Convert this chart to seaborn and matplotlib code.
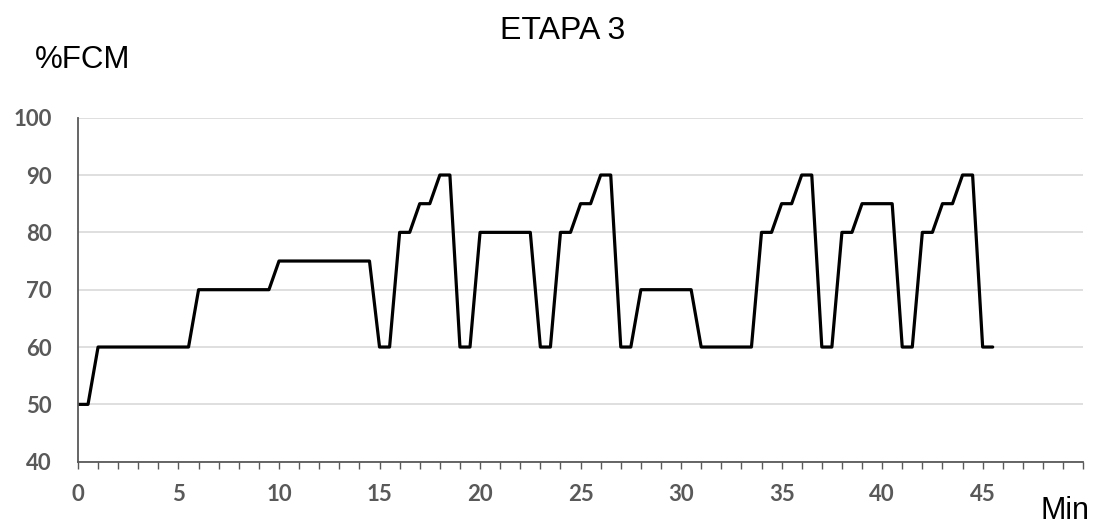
import pandas as pd
import matplotlib
matplotlib.use("Agg")
import matplotlib.pyplot as plt
import matplotlib.ticker as ticker
import seaborn as sns
import numpy as np

# %FCM every half minute, from 0 to 45.5 min
minutes = np.arange(0, 46, 0.5)
fcm = [50, 50, 60, 60, 60, 60, 60, 60, 60, 60, 60, 60,
       70, 70, 70, 70, 70, 70, 70, 70,
       75, 75, 75, 75, 75, 75, 75, 75, 75, 75,
       60, 60, 80, 80, 85, 85, 90, 90,
       60, 60, 80, 80, 80, 80, 80, 80,
       60, 60, 80, 80, 85, 85, 90, 90,
       60, 60, 70, 70, 70, 70, 70, 70,
       60, 60, 60, 60, 60, 60,
       80, 80, 85, 85, 90, 90,
       60, 60, 80, 80, 85, 85, 85, 85,
       60, 60, 80, 80, 85, 85, 90, 90,
       60, 60]
y_ticks = [40, 50, 60, 70, 80, 90, 100]

data = pd.DataFrame({'min': minutes, 'fcm': fcm})

sns.set_style("white")
plt.rcParams['font.family'] = ['Liberation Sans', 'DejaVu Sans']

fig = plt.figure(figsize=(10.95, 5.27), dpi=100)
ax = fig.add_axes([0.0712, 0.1239, 0.918, 0.6528])

sns.lineplot(ax=ax, data=data, x='min', y='fcm', color='black', linewidth=2.3)

ax.set_xlim(0, 50)
ax.set_ylim(40, 100)
ax.set_yticks(y_ticks)
ax.xaxis.set_major_locator(ticker.MultipleLocator(5))
ax.xaxis.set_minor_locator(ticker.MultipleLocator(1))
ax.xaxis.set_major_formatter(ticker.FuncFormatter(lambda v, p: '' if v >= 50 else '%d' % v))

ax.grid(axis='y', color='#d9d9d9', linewidth=1.2)
ax.set_axisbelow(True)
for s in ['top', 'right']:
    ax.spines[s].set_visible(False)
for s in ['left', 'bottom']:
    ax.spines[s].set_color('#595959')
    ax.spines[s].set_linewidth(1.3)

ax.tick_params(axis='x', which='both', direction='out', length=5, width=1, color='#595959', bottom=True)
ax.tick_params(axis='x', which='major', pad=11)
ax.tick_params(axis='y', length=0, pad=19)
for lab in ax.get_xticklabels() + ax.get_yticklabels():
    lab.set_family(['Lato', 'DejaVu Sans'])
    lab.set_fontweight('bold')
    lab.set_fontsize(16)
    lab.set_color('#595959')

ax.set_xlabel('')
ax.set_ylabel('')

fig.text(0.514, 0.941, 'ETAPA 3', ha='center', va='center', fontsize=23, color='black')
fig.text(0.032, 0.886, '%FCM', ha='left', va='center', fontsize=22.5, color='black')
fig.text(0.995, 0.030, 'Min', ha='right', va='center', fontsize=22, color='black')

fig.savefig('out.png', dpi=100)
